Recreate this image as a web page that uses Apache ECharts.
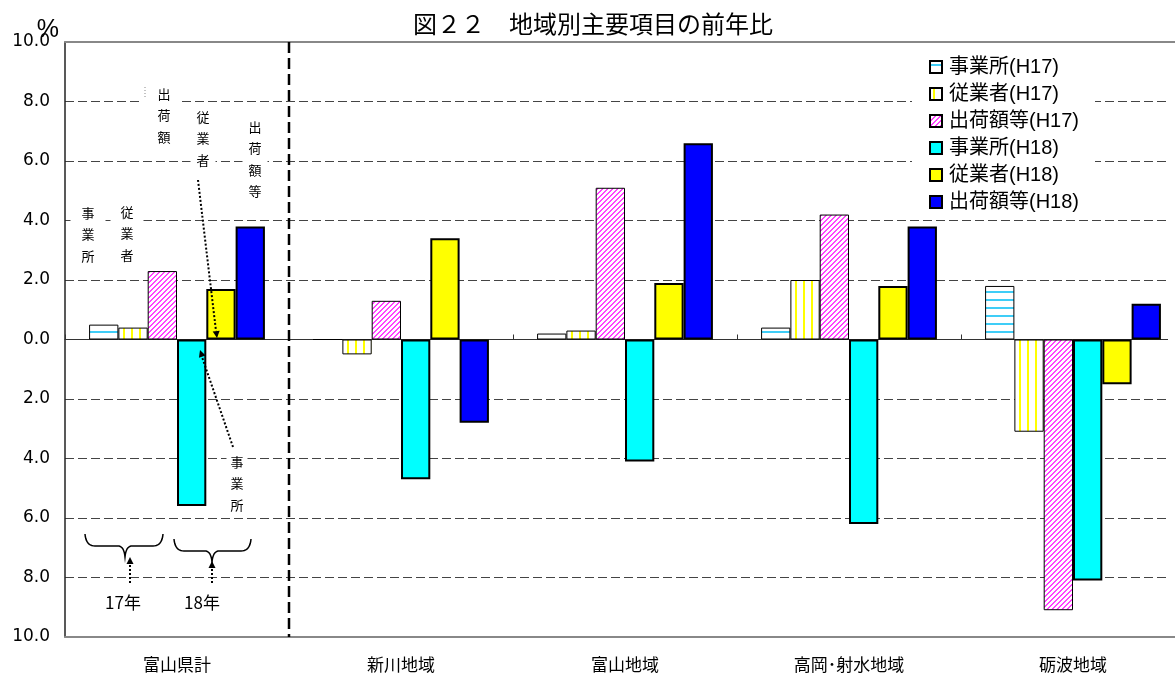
<!DOCTYPE html>
<html>
<head>
<meta charset="utf-8">
<script src="https://cdn.jsdelivr.net/npm/echarts@6/dist/echarts.min.js"></script>
<style>html,body{margin:0;padding:0;background:#fff;overflow:hidden;width:1175px;height:675px;}#c{width:1190px;height:675px;}</style>
</head>
<body>
<div id="c"></div>
<script>
// ---- data ----
const categories = ['富山県計', '新川地域', '富山地域', '高岡･射水地域', '砺波地域'];
const seriesNames = ['事業所(H17)', '従業者(H17)', '出荷額等(H17)', '事業所(H18)', '従業者(H18)', '出荷額等(H18)'];
const jigyosho17 = [0.5, 0.0, 0.2, 0.4, 1.8];
const jugyosha17 = [0.4, -0.5, 0.3, 2.0, -3.1];
const shukka17   = [2.3, 1.3, 5.1, 4.2, -9.1];
const jigyosho18 = [-5.6, -4.7, -4.1, -6.2, -8.1];
const jugyosha18 = [1.7, 3.4, 1.9, 1.8, -1.5];
const shukka18   = [3.8, -2.8, 6.6, 3.8, 1.2];
const yTicks = [-10, -8, -6, -4, -2, 0, 2, 4, 6, 8, 10];

// ---- patterns ----
function makeCanvas(w, h, draw) {
  const c = document.createElement('canvas');
  c.width = w; c.height = h;
  const ctx = c.getContext('2d');
  ctx.fillStyle = '#ffffff';
  ctx.fillRect(0, 0, w, h);
  draw(ctx);
  return c;
}
const patH = makeCanvas(8, 8, ctx => { ctx.fillStyle = '#3fcdf7'; ctx.fillRect(0, 3, 8, 2); });
const patV = makeCanvas(8, 8, ctx => { ctx.fillStyle = '#ffff00'; ctx.fillRect(3, 0, 2, 8); });
const patD = makeCanvas(5, 5, ctx => {
  ctx.fillStyle = '#ff44ff';
  for (let x = 0; x < 5; x++) for (let y = 0; y < 5; y++) {
    const m = (x + y) % 5;
    if (m === 0 || m === 1) ctx.fillRect(x, y, 1, 1);
  }
});

const FONT = '"Liberation Sans", "Noto Sans CJK JP", sans-serif';
const NFONT = '"DejaVu Sans", sans-serif';
const JFONT = '"Noto Sans CJK JP", sans-serif';

function bar(name, data, color, bw) {
  return {
    name: name, type: 'bar', data: data,
    xAxisIndex: 0, yAxisIndex: 0,
    barGap: '0%', barCategoryGap: '21.5%',
    itemStyle: { color: color, borderColor: '#000', borderWidth: bw },
    emphasis: { disabled: true },
    animation: false
  };
}

const chart = echarts.init(document.getElementById('c'), null, { renderer: 'canvas' });

const option = {
  animation: false,
  title: {
    text: '図２２　地域別主要項目の前年比',
    left: 588, textAlign: 'center', top: 7,
    textStyle: { fontFamily: JFONT, fontSize: 24, fontWeight: 'normal', color: '#000' }
  },
  legend: {
    orient: 'vertical',
    left: 912, top: 50,
    padding: [7, 16, 4, 17],
    backgroundColor: '#fff',
    itemWidth: 12, itemHeight: 12, itemGap: 7,
    icon: 'rect',
    data: seriesNames,
    textStyle: { fontFamily: FONT, fontSize: 20, color: '#000', padding: [0, 0, 0, 2] }
  },
  grid: { left: 65, right: 5, top: 42, bottom: 38 },
  xAxis: [
    {
      type: 'category', data: categories, boundaryGap: true,
      axisLine: { onZero: true, lineStyle: { color: '#333', width: 1 } },
      axisTick: { show: true, inside: true, length: 5, lineStyle: { color: '#333' } },
      axisLabel: { show: false },
      splitLine: { show: false }
    },
    {
      type: 'category', data: categories, boundaryGap: true, position: 'bottom',
      axisLine: { onZero: false, lineStyle: { color: '#888', width: 2 } },
      axisTick: { show: false },
      axisLabel: { show: true, margin: 19, fontFamily: JFONT, fontSize: 17, color: '#000' },
      splitLine: { show: false }
    },
    {
      type: 'category', data: categories, boundaryGap: true, position: 'top',
      axisLine: { onZero: false, lineStyle: { color: '#888', width: 2 } },
      axisTick: { show: false }, axisLabel: { show: false }, splitLine: { show: false }
    }
  ],
  yAxis: {
    type: 'value', min: yTicks[0], max: yTicks[yTicks.length - 1], interval: 2,
    axisLine: { show: true, lineStyle: { color: '#222', width: 1.5 } },
    axisTick: { show: false },
    axisLabel: {
      margin: 15, fontFamily: NFONT, fontSize: 17, color: '#000',
      formatter: function (v) { return Math.abs(v).toFixed(1); }
    },
    splitLine: { show: true, lineStyle: { color: '#444', width: 1, type: [9, 4] } }
  },
  series: [
    bar(seriesNames[0], jigyosho17, { image: patH, repeat: 'repeat' }, 1),
    bar(seriesNames[1], jugyosha17, { image: patV, repeat: 'repeat' }, 1),
    bar(seriesNames[2], shukka17, { image: patD, repeat: 'repeat' }, 1),
    bar(seriesNames[3], jigyosho18, '#00ffff', 2),
    bar(seriesNames[4], jugyosha18, '#ffff00', 2),
    bar(seriesNames[5], shukka18, '#0000ff', 2)
  ]
};

chart.setOption(option);

// ---- separator between 富山県計 and the regions (from the axis scale) ----
const xA = chart.convertToPixel({ xAxisIndex: 0 }, categories[0]);
const xB = chart.convertToPixel({ xAxisIndex: 0 }, categories[1]);
const sepX = (xA + xB) / 2;
const yTop = chart.convertToPixel({ yAxisIndex: 0 }, yTicks[yTicks.length - 1]);
const yBot = chart.convertToPixel({ yAxisIndex: 0 }, yTicks[0]);
const axisX = xA - (xB - xA) / 2;

// ---- annotations in the first group ----
function vtext(str, cx, topY, pad) {
  return {
    type: 'text', z: 50, x: cx, y: topY,
    style: {
      text: str.split('').join('\n'), fontFamily: JFONT, fontSize: 13, lineHeight: 21.5,
      fill: '#000', align: 'center', verticalAlign: 'top', backgroundColor: '#fff', padding: pad || [2, 6, 2, 6]
    }
  };
}
function dline(x1, y1, x2, y2) {
  return { type: 'line', z: 55, shape: { x1: x1, y1: y1, x2: x2, y2: y2 },
    style: { stroke: '#000', lineWidth: 2, lineDash: [2, 2] } };
}
function arrowHead(tx, ty, fx, fy) {
  const dx = tx - fx, dy = ty - fy, L = Math.sqrt(dx * dx + dy * dy);
  const ux = dx / L, uy = dy / L, bx = tx - ux * 7, by = ty - uy * 7;
  return { type: 'polygon', z: 56, shape: { points: [[tx, ty], [bx - uy * 3.5, by + ux * 3.5], [bx + uy * 3.5, by - ux * 3.5]] },
    style: { fill: '#000' } };
}
function quadPts(p0, c, p1) {
  const out = [];
  for (let i = 0; i <= 10; i++) {
    const t = i / 10, a = (1 - t) * (1 - t), b = 2 * (1 - t) * t, d = t * t;
    out.push([a * p0[0] + b * c[0] + d * p1[0], a * p0[1] + b * c[1] + d * p1[1]]);
  }
  return out;
}
function brace(x0, x1, yEnd, yMid, xTip, yTip) {
  const r = 10;
  let pts = [];
  pts = pts.concat(quadPts([x0, yEnd], [x0 + 1, yMid], [x0 + r, yMid]));
  pts = pts.concat(quadPts([xTip - 7, yMid], [xTip - 1, yMid], [xTip, yTip]));
  pts = pts.concat(quadPts([xTip, yTip], [xTip + 1, yMid], [xTip + 7, yMid]));
  pts = pts.concat(quadPts([x1 - r, yMid], [x1 - 1, yMid], [x1, yEnd]));
  return { type: 'polyline', z: 55, shape: { points: pts }, style: { stroke: '#000', lineWidth: 1.5, fill: null } };
}
function htext(str, cx, cy) {
  return { type: 'text', z: 55, x: cx, y: cy,
    style: { text: str, fontFamily: JFONT, fontSize: 17, fill: '#000', align: 'center', verticalAlign: 'middle' } };
}

const graphics = [
  { type: 'text', z: 60, x: axisX - 6, y: yTop + 1,
    style: { text: '%', fontFamily: '"Liberation Sans", sans-serif', fontSize: 25, fill: '#000', align: 'right', verticalAlign: 'bottom' } },
  { type: 'line', z: 40, shape: { x1: sepX, y1: yTop, x2: sepX, y2: yBot },
    style: { stroke: '#000', lineWidth: 2.5, lineDash: [11, 5] } },
  // white strip at the cropped right edge of the picture
  { type: 'rect', z: 100, shape: { x: 1168, y: yTop + 2, width: 12, height: yBot - yTop - 4 }, style: { fill: '#fff' } },
  vtext('事業所', 88, 198, [4, 11, 4, 11]),
  vtext('従業者', 127, 197, [4, 10, 4, 10]),
  vtext('出荷額', 160, 80, [3, 10, 3, 18]),
  vtext('従業者', 203, 103, [3, 6, 3, 6]),
  vtext('出荷額等', 255, 113, [3, 6, 3, 6]),
  vtext('事業所', 237, 449, [2, 4, 2, 4]),
  { type: 'line', z: 56, shape: { x1: 145, y1: 87, x2: 145, y2: 97 }, style: { stroke: '#888', lineWidth: 1, lineDash: [1, 2] } },
  dline(198, 180, 216, 331),
  arrowHead(217, 338, 198, 180),
  dline(233, 447, 202, 357),
  arrowHead(200, 350, 233, 447),
  brace(85, 163, 534, 546, 125, 557),
  brace(174, 251, 539, 551, 212, 562),
  { type: 'line', z: 55, shape: { x1: 130, y1: 583, x2: 130, y2: 564 }, style: { stroke: '#000', lineWidth: 2, lineDash: [2, 2] } },
  arrowHead(130, 557, 130, 583),
  { type: 'line', z: 55, shape: { x1: 212, y1: 583, x2: 212, y2: 568 }, style: { stroke: '#000', lineWidth: 2, lineDash: [2, 2] } },
  arrowHead(212, 561, 212, 583),
  htext('17年', 123, 603),
  htext('18年', 202, 603)
];
chart.setOption({ graphic: graphics });
</script>
</body>
</html>
